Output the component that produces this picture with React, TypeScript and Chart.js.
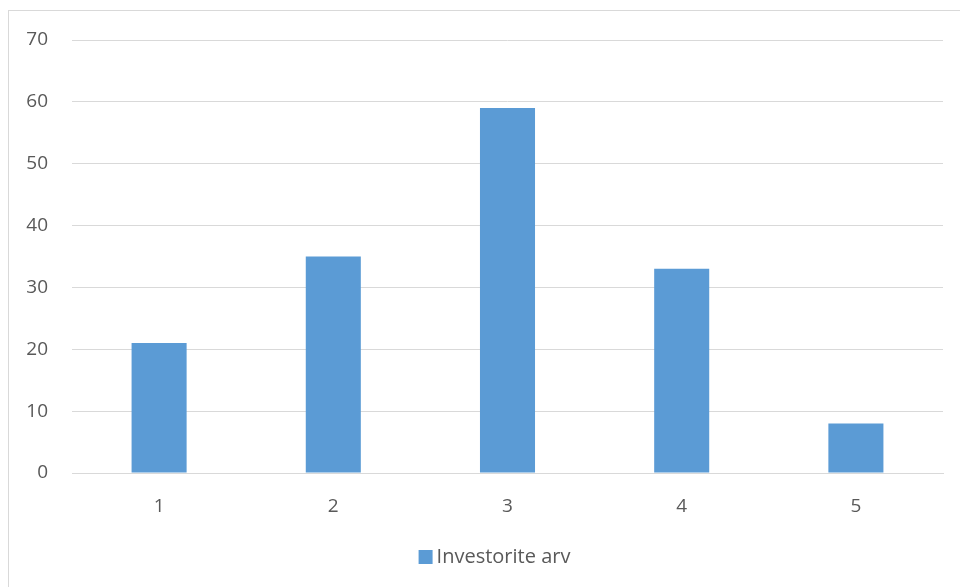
import React, { useEffect, useRef } from "react";
import { Chart, registerables } from "chart.js";

Chart.register(...registerables);

const categories = ["1", "2", "3", "4", "5"];
const investorCounts = [21, 35, 59, 33, 8];
const seriesLabel = "Investorite arv";
const yTicks = { min: 0, max: 70, step: 10 };

const FONT = "'Open Sans', 'Liberation Sans', sans-serif";
const TEXT = "#595959";
const GRID = "#d9d9d9";
const BAR = "#5b9bd5";

// Bottom legend drawn in the office-chart style: small square, tight gap, label.
const bottomLegend = {
  id: "bottomLegend",
  afterDraw(chart: any) {
    const ctx = chart.ctx;
    const ds = chart.data.datasets[0];
    const label = String(ds.label);
    ctx.save();
    ctx.font = `20px ${FONT}`;
    const textW = ctx.measureText(label).width;
    const box = 14;
    const gap = 4;
    const total = box + gap + textW;
    const cx = (chart.chartArea.left + chart.chartArea.right) / 2 - 13;
    const x0 = cx - total / 2;
    const cy = 557;
    ctx.fillStyle = ds.backgroundColor;
    ctx.fillRect(x0, cy - box / 2, box, box);
    ctx.fillStyle = TEXT;
    ctx.textBaseline = "middle";
    ctx.textAlign = "left";
    ctx.fillText(label, x0 + box + gap, cy);
    ctx.restore();
  },
};

export default function App() {
  const canvasRef = useRef<HTMLCanvasElement | null>(null);

  useEffect(() => {
    const canvas = canvasRef.current;
    if (!canvas) return;
    const chart = new Chart(canvas, {
      type: "bar",
      data: {
        labels: categories,
        datasets: [
          {
            label: seriesLabel,
            data: investorCounts,
            backgroundColor: BAR,
            borderWidth: 0,
            barPercentage: 0.316,
            categoryPercentage: 1,
          },
        ],
      },
      options: {
        animation: false,
        responsive: false,
        maintainAspectRatio: false,
        layout: { padding: { left: 0, right: 17, top: 40, bottom: 52 } },
        scales: {
          x: {
            grid: { display: false },
            border: { display: true, color: GRID, width: 1 },
            ticks: { color: TEXT, font: { family: FONT, size: 19 }, padding: 14 },
            afterFit: (s: any) => {
              s.height = 62;
            },
          },
          y: {
            min: yTicks.min,
            max: yTicks.max,
            ticks: {
              stepSize: yTicks.step,
              color: TEXT,
              font: { family: FONT, size: 19 },
              padding: 24,
            },
            grid: { color: GRID, lineWidth: 1, drawTicks: false },
            border: { display: false },
            afterFit: (s: any) => {
              s.width = 72;
            },
          },
        },
        plugins: {
          legend: { display: false },
          tooltip: { enabled: false },
        },
      },
      plugins: [bottomLegend],
    });
    return () => chart.destroy();
  }, []);

  return (
    <div style={{ position: "fixed", left: 0, top: 0, width: 960, height: 587, background: "#fff" }}>
      <div
        style={{
          position: "absolute",
          left: 8,
          top: 10,
          width: 960,
          height: 600,
          border: "1.5px solid #d9d9d9",
          boxSizing: "border-box",
        }}
      />
      <canvas
        ref={canvasRef}
        width={960}
        height={587}
        style={{ position: "absolute", left: 0, top: 0, width: 960, height: 587 }}
      />
    </div>
  );
}
